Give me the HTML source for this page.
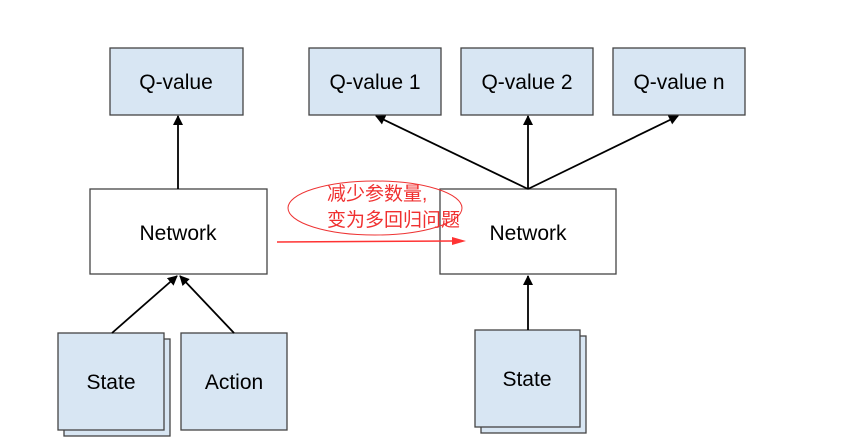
<!DOCTYPE html>
<html><head><meta charset="utf-8"><style>
body{margin:0;background:#fff;}
</style></head><body>
<svg width="866" height="442" xmlns="http://www.w3.org/2000/svg" font-family="Liberation Sans, sans-serif">
<defs>
<marker id="a" markerWidth="10" markerHeight="10" refX="9" refY="5" orient="auto" markerUnits="userSpaceOnUse" viewBox="0 0 10 10"><path d="M0,0 L10,5 L0,10 z" fill="#000"/></marker>
</defs>
<g stroke="#444" stroke-width="1.3">
<rect x="110" y="48" width="133" height="67" fill="#d8e6f3"/>
<rect x="309" y="48" width="132" height="67" fill="#d8e6f3"/>
<rect x="461" y="48" width="132" height="67" fill="#d8e6f3"/>
<rect x="613" y="48" width="132" height="67" fill="#d8e6f3"/>
<rect x="90" y="189" width="177" height="85" fill="#fff"/>
<rect x="440" y="189" width="176" height="85" fill="#fff"/>
<rect x="64" y="339" width="106" height="97" fill="#d8e6f3"/>
<rect x="58" y="333" width="106" height="97" fill="#d8e6f3"/>
<rect x="181" y="333" width="106" height="97" fill="#d8e6f3"/>
<rect x="481" y="336" width="105" height="97" fill="#d8e6f3"/>
<rect x="475" y="330" width="105" height="97" fill="#d8e6f3"/>
</g>
<g stroke="#000" stroke-width="1.8" fill="none" marker-end="url(#a)">
<line x1="178" y1="189" x2="178" y2="116"/>
<line x1="112" y1="333" x2="177" y2="276"/>
<line x1="234" y1="333" x2="180" y2="276"/>
<line x1="528" y1="189" x2="376" y2="116"/>
<line x1="528" y1="189" x2="528" y2="116"/>
<line x1="528" y1="189" x2="678" y2="116"/>
<line x1="528" y1="330" x2="528" y2="276"/>
</g>
<g font-size="21" text-anchor="middle" fill="#000">
<text x="176" y="89">Q-value</text>
<text x="375" y="89">Q-value 1</text>
<text x="527" y="89">Q-value 2</text>
<text x="679" y="89">Q-value n</text>
<text x="178" y="240">Network</text>
<text x="528" y="240">Network</text>
<text x="111" y="389">State</text>
<text x="234" y="389">Action</text>
<text x="527" y="386">State</text>
</g>
<ellipse cx="375" cy="208" rx="87" ry="27" fill="none" stroke="#e33" stroke-width="1"/>
<g font-family="Liberation Sans, Noto Sans CJK SC, sans-serif" font-size="19" fill="#f03030">
<text x="327" y="200">减少参数量,</text>
<text x="327" y="226">变为多回归问题</text>
</g>
<line x1="277" y1="242" x2="452" y2="241" stroke="#f33" stroke-width="1.5"/>
<path d="M452,237 L466,241 L452,245 z" fill="#f33"/>
</svg>
</body></html>
